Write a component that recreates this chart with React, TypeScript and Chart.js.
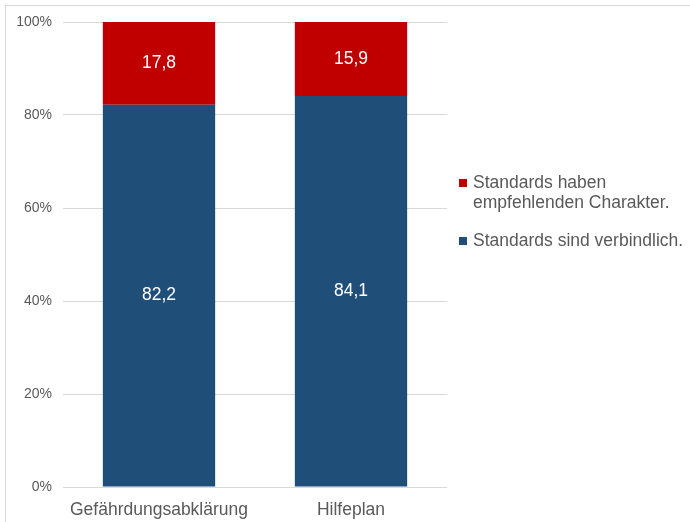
import React, { useEffect, useRef } from "react";
import { Chart, registerables } from "chart.js";

Chart.register(...registerables);

const categories = ["Gefährdungsabklärung", "Hilfeplan"];
const verbindlich = [82.2, 84.1];
const empfehlend = [17.8, 15.9];
const yTicks = [0, 20, 40, 60, 80, 100];
const legendLabels = [
  ["Standards haben", "empfehlenden Charakter."],
  ["Standards sind verbindlich."],
];

const RED = "#C00000";
const BLUE = "#1F4E79";
const TEXT = "#595959";
const FONT = "'Liberation Sans', Arial, sans-serif";

const labelPlugin = {
  id: "segLabels",
  afterDatasetsDraw(chart: any) {
    const ctx = chart.ctx;
    ctx.save();
    ctx.fillStyle = "#ffffff";
    ctx.font = `17.5px ${FONT}`;
    ctx.textAlign = "center";
    ctx.textBaseline = "middle";
    chart.data.datasets.forEach((ds: any, i: number) => {
      const meta = chart.getDatasetMeta(i);
      meta.data.forEach((el: any, j: number) => {
        const v = ds.data[j];
        const p = el.getCenterPoint();
        ctx.fillText(v.toFixed(1).replace(".", ","), p.x, p.y);
      });
    });
    ctx.restore();
  },
};

export default function App() {
  const ref = useRef<HTMLCanvasElement | null>(null);
  useEffect(() => {
    if (!ref.current) return;
    const chart = new Chart(ref.current, {
      type: "bar",
      data: {
        labels: categories,
        datasets: [
          {
            label: legendLabels[1].join(" "),
            data: verbindlich,
            backgroundColor: BLUE,
            borderWidth: 0,
            barPercentage: 1,
            categoryPercentage: 0.585,
          },
          {
            label: legendLabels[0].join(" "),
            data: empfehlend,
            backgroundColor: RED,
            borderWidth: 0,
            barPercentage: 1,
            categoryPercentage: 0.585,
          },
        ],
      },
      options: {
        animation: false,
        responsive: false,
        maintainAspectRatio: false,
        layout: { padding: { left: 0, right: 243, top: 22, bottom: 0 } },
        plugins: {
          legend: { display: false },
          tooltip: { enabled: false },
        },
        scales: {
          x: {
            stacked: true,
            grid: { display: false },
            border: { display: false },
            ticks: {
              color: TEXT,
              font: { family: FONT, size: 17.5 },
              padding: 5,
              maxRotation: 0,
            },
            afterFit(scale: any) {
              scale.height = 35;
            },
          },
          y: {
            stacked: true,
            min: 0,
            max: 100,
            border: { display: false },
            grid: { color: "#d9d9d9", drawTicks: false, lineWidth: 1 },
            afterBuildTicks(scale: any) {
              scale.ticks = yTicks.map((v) => ({ value: v }));
            },
            ticks: {
              color: TEXT,
              font: { family: FONT, size: 14 },
              padding: 11,
              callback: (v: any) => `${v}%`,
            },
            afterFit(scale: any) {
              scale.width = 63;
            },
          },
        },
      },
      plugins: [labelPlugin],
    });
    return () => chart.destroy();
  }, []);

  const legendItem = (color: string, lines: string[], top: number) => (
    <div
      style={{
        position: "absolute",
        left: 459,
        top,
        display: "flex",
        alignItems: "flex-start",
        fontFamily: FONT,
        fontSize: 17.5,
        lineHeight: "20px",
        color: TEXT,
      }}
    >
      <div
        style={{
          width: 8,
          height: 8,
          background: color,
          marginTop: 7,
          marginRight: 6,
          flex: "none",
        }}
      />
      <div>
        {lines.map((l, i) => (
          <div key={i} style={{ whiteSpace: "nowrap" }}>{l}</div>
        ))}
      </div>
    </div>
  );

  return (
    <div
      style={{
        position: "absolute",
        left: 0,
        top: 0,
        width: 690,
        height: 522,
        overflow: "hidden",
        background: "#fff",
      }}
    >
      <div
        style={{
          position: "absolute",
          left: 5,
          top: 5,
          width: 720,
          height: 560,
          border: "1.5px solid #d9d9d9",
          boxSizing: "border-box",
        }}
      />
      <canvas
        ref={ref}
        width={690}
        height={522}
        style={{ position: "absolute", left: 0, top: 0, width: 690, height: 522 }}
      />
      {legendItem(RED, legendLabels[0], 172)}
      {legendItem(BLUE, legendLabels[1], 230)}
    </div>
  );
}
